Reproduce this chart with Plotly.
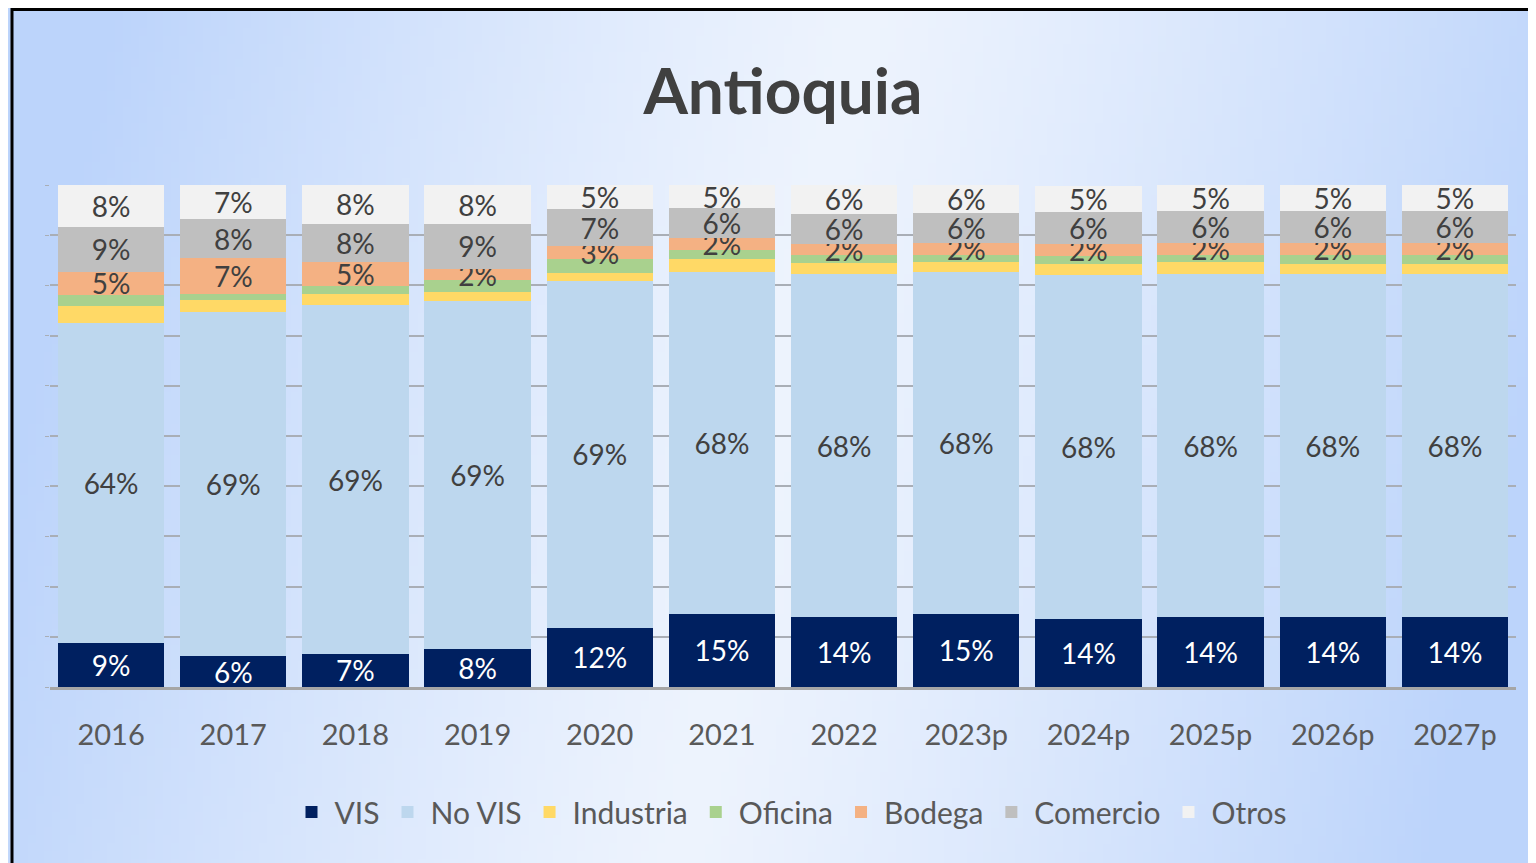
import base64, struct, zlib
import plotly.graph_objects as go

categories = ["2016", "2017", "2018", "2019", "2020", "2021", "2022",
              "2023p", "2024p", "2025p", "2026p", "2027p"]
vis       = [8.8, 6.1, 6.6, 7.6, 11.8, 14.6, 13.9, 14.6, 13.6, 13.9, 13.9, 13.9]
no_vis    = [63.7, 68.7, 69.4, 69.3, 69.1, 68.0, 68.3, 68.0, 68.4, 68.4, 68.4, 68.4]
industria = [3.4, 2.3, 2.3, 1.8, 1.6, 2.7, 2.3, 2.0, 2.3, 2.3, 1.9, 1.9]
oficina   = [2.2, 1.1, 1.5, 2.3, 2.7, 1.8, 1.5, 1.5, 1.5, 1.5, 1.9, 1.9]
bodega    = [4.6, 7.2, 4.8, 2.3, 2.6, 2.3, 2.3, 2.3, 2.4, 2.3, 2.3, 2.3]
comercio  = [9.0, 7.8, 7.7, 8.9, 7.4, 6.0, 6.0, 6.1, 6.4, 6.4, 6.4, 6.4]
otros     = [8.3, 6.8, 7.7, 7.8, 4.8, 4.6, 5.7, 5.5, 5.3, 5.2, 5.2, 5.2]

series = [
    ("VIS", vis, "#002060", "white", True),
    ("No VIS", no_vis, "#BDD7EE", "#404040", True),
    ("Industria", industria, "#FFD966", "#404040", False),
    ("Oficina", oficina, "#A9D18E", "#404040", False),
    ("Bodega", bodega, "#F4B183", "#404040", True),
    ("Comercio", comercio, "#BFBFBF", "#404040", True),
    ("Otros", otros, "#F2F2F2", "#404040", True),
]

FONT = "Lato"
OFF = 8  # page body margin offset
W, H = 1536 - OFF, 863 - OFF
L, T = 50 - OFF, 185 - OFF
R = W - (1516 - OFF)
B = H - (687 - OFF)
PW, PH = W - L - R, H - T - B

# background gradient image (pure python PNG)
def make_png(w, h):
    edge = (188, 212, 251)
    mid = (238, 244, 254)
    rows = []
    for j in range(h):
        row = bytearray([0])
        for i in range(w):
            u = i / (w - 1) + 0.12 * (j / (h - 1) - 0.5)
            f = 1 - min(1.0, abs(2 * u - 1)) ** 1.2
            for k in range(3):
                row.append(int(edge[k] + (mid[k] - edge[k]) * f))
        rows.append(bytes(row))
    raw = b"".join(rows)
    def chunk(t, d):
        c = struct.pack(">I", len(d)) + t + d
        return c + struct.pack(">I", zlib.crc32(t + d) & 0xffffffff)
    png = b"\x89PNG\r\n\x1a\n"
    png += chunk(b"IHDR", struct.pack(">IIBBBBB", w, h, 8, 2, 0, 0, 0))
    png += chunk(b"IDAT", zlib.compress(raw, 9))
    png += chunk(b"IEND", b"")
    return "data:image/png;base64," + base64.b64encode(png).decode()

bg = make_png(192, 108)

fig = go.Figure()
for name, vals, color, tcol, show in series:
    fig.add_trace(go.Bar(
        name=name, x=categories, y=vals,
        marker=dict(color=color, line=dict(width=0)),
        texttemplate="%{y:.0f}%" if show else None,
        textposition="inside" if show else "none",
        insidetextanchor="middle",
        textangle=0,
        textfont=dict(family=FONT, size=28, color=tcol),
        hoverinfo="x+y+name",
    ))

# reference-screen pixel -> paper coords
def px_x(p):
    return (p - OFF - L) / PW

def px_y(p):
    return (H - B - (p - OFF)) / PH

fig.update_layout(
    width=W, height=H,
    margin=dict(l=L, r=R, t=T, b=B),
    barmode="stack",
    bargap=0.13,
    paper_bgcolor="#d6e5fc",
    plot_bgcolor="rgba(250,252,255,0.75)",
    title=dict(text="<b>Antioquia</b>", xref="paper", x=px_x(783),
               xanchor="center",
               y=1 - (92 - OFF) / H, yanchor="middle",
               font=dict(family=FONT, size=64, color="#404040")),
    uniformtext=dict(minsize=28, mode="show"),
    legend=dict(orientation="h", x=px_x(790), xanchor="center",
                y=px_y(812), yanchor="middle", traceorder="normal",
                itemwidth=36,
                font=dict(family=FONT, size=30, color="#595959"),
                bgcolor="rgba(0,0,0,0)"),
    xaxis=dict(tickfont=dict(family=FONT, size=29, color="#595959"),
               ticks="outside", ticklen=20, tickcolor="rgba(0,0,0,0)",
               showline=True, linecolor="#A6A6A6", linewidth=3,
               showgrid=False, fixedrange=True),
    yaxis=dict(range=[0, 100], dtick=10, showticklabels=False,
               showgrid=True, gridcolor="#A9AEB6", gridwidth=2,
               ticks="outside", ticklen=4, tickcolor="#A9AEB6",
               zeroline=False, showline=False, fixedrange=True),
    images=[dict(source=bg, xref="paper", yref="paper",
                 x=px_x(OFF), y=px_y(OFF), sizex=W / PW, sizey=H / PH,
                 xanchor="left", yanchor="top", sizing="stretch",
                 layer="below", opacity=1)],
    shapes=[dict(type="rect", xref="paper", yref="paper",
                 x0=px_x(12), x1=px_x(1545), y0=px_y(9.5), y1=px_y(875),
                 line=dict(color="black", width=3), fillcolor="rgba(0,0,0,0)")],
    showlegend=True,
)

fig.write_html("out.html")
